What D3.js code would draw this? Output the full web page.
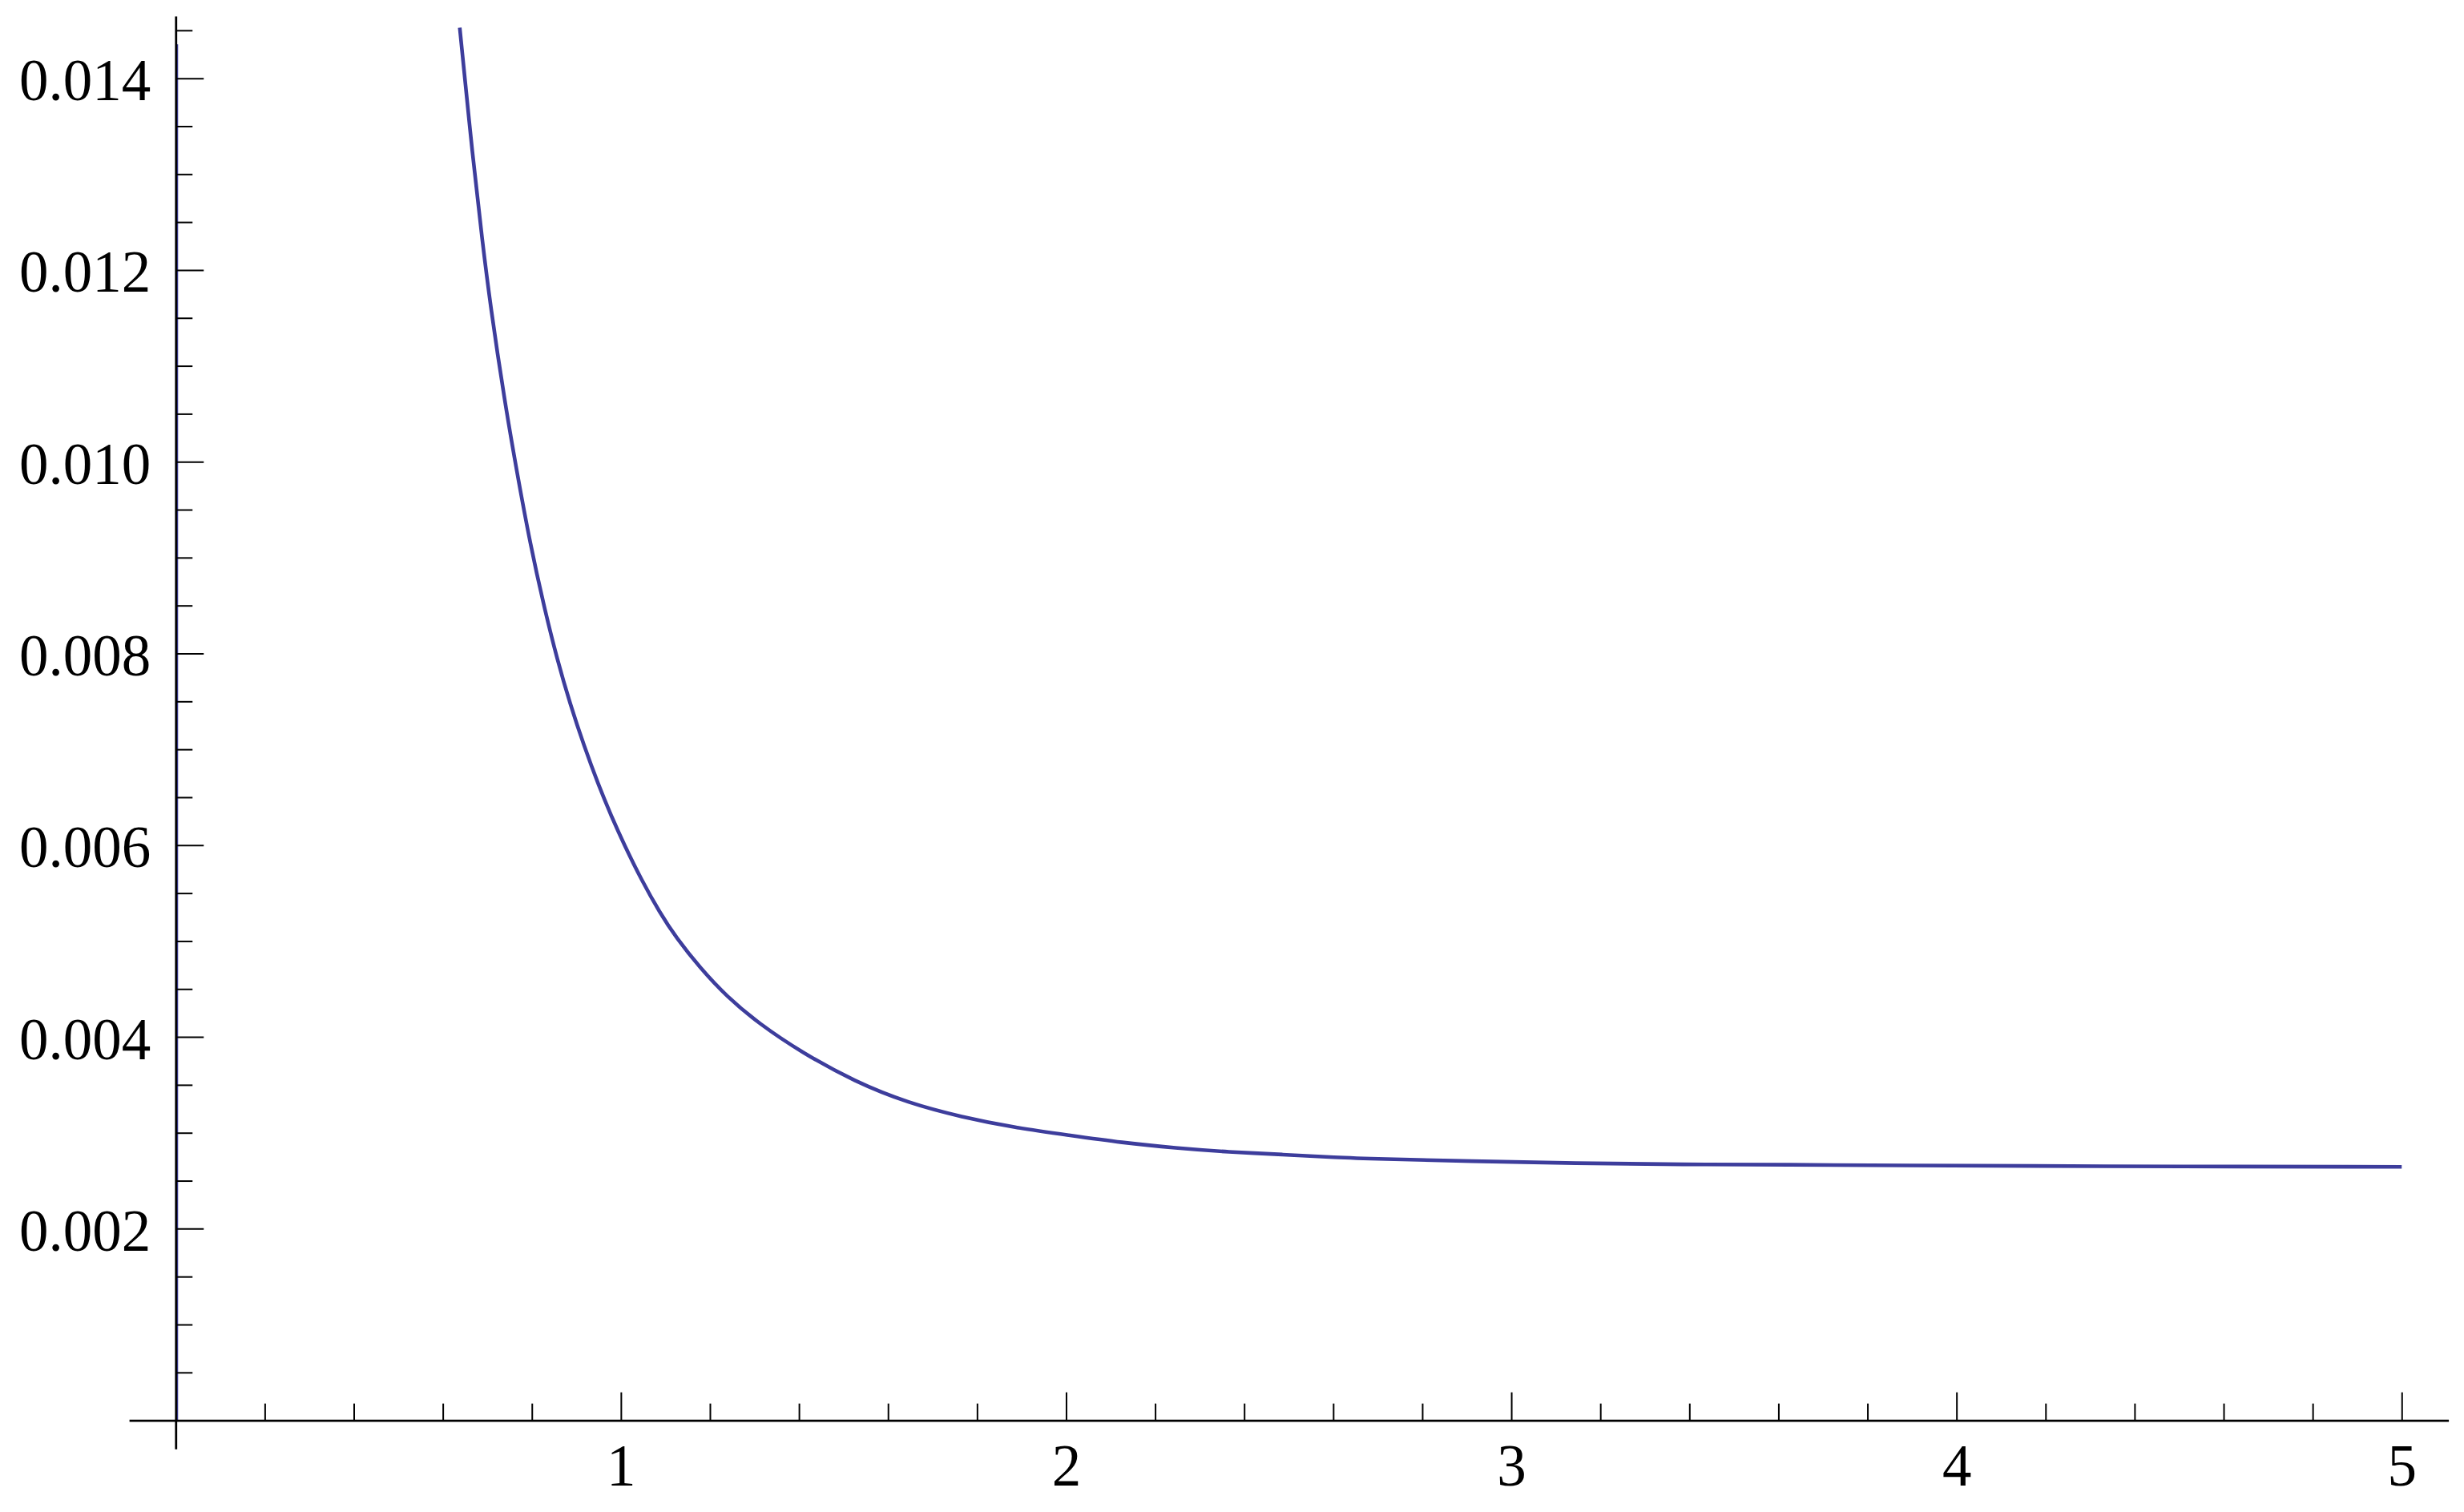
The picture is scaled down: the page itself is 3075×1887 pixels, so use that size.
<!DOCTYPE html>
<html>
<head>
<meta charset="utf-8">
<script src="https://cdnjs.cloudflare.com/ajax/libs/d3/7.8.5/d3.min.js"></script>
<style>
  body { margin: 0; background: #fff; }
  #graf { width: 3075px; height: 1887px; }
  .eje text { font-family: 'Liberation Serif', 'Times New Roman', serif; font-size: 73px; fill: #000; }
  .eje line { stroke: #000; stroke-width: 2px; }
  .eje path { stroke: #000; stroke-width: 2.8px; }
</style>
</head>
<body>
<div id="graf"></div>
<script>
// I. Data
curveX = [0.638, 0.6675, 0.6888, 0.7068, 0.7385, 0.7667, 0.7968, 0.8267, 0.8567, 0.8867,
          0.9167, 0.9498, 0.9797, 1.0067, 1.0457, 1.0877, 1.1237, 1.1777, 1.2377, 1.3097,
          1.4057, 1.5257, 1.6457, 1.7657, 1.8857, 2.0057, 2.1256, 2.2457, 2.3656, 2.4856,
          2.6056, 2.701, 2.9056, 3.1456, 3.3855, 3.625, 3.866, 4.286, 5.0]
curveY = [0.014528, 0.01316, 0.0123, 0.01163, 0.01064, 0.009884, 0.009131, 0.0085, 0.00794, 0.007461,
          0.007042, 0.006624, 0.00629, 0.006012, 0.005642, 0.005293, 0.005037, 0.00472, 0.00442, 0.00414,
          0.003839, 0.003532, 0.00331, 0.003164, 0.003053, 0.002975, 0.002897, 0.002841, 0.002799, 0.002774,
          0.002741, 0.002727, 0.002704, 0.002682, 0.002669, 0.002667, 0.00266, 0.00265, 0.002645]

// vertical piece of the same curve that sits on the y axis
edgeX = [0, 0]
edgeY = [0, 0.014355]

xTicks = [1, 2, 3, 4, 5]
xLabels = ['1', '2', '3', '4', '5']
yTicks = [0.002, 0.004, 0.006, 0.008, 0.010, 0.012, 0.014]
yLabels = ['0.002', '0.004', '0.006', '0.008', '0.010', '0.012', '0.014']

xDomain = [-0.1047, 5.105]
yDomain = [-0.000298, 0.014649]

// II. Setup
ancho_total = 3075
alto_total = 1887

svg = d3.select('#graf').append('svg')
        .attr('width', ancho_total)
        .attr('height', alto_total)

x = d3.scaleLinear()
      .domain(xDomain)
      .range([161.1, 3055.6])

y = d3.scaleLinear()
      .domain(yDomain)
      .range([1808.3, 20])

lineColor = '#3d3d9c'

// III. Curve
linea = d3.line()
          .x(d => x(d[0]))
          .y(d => y(d[1]))
          .curve(d3.curveBasis)

svg.append('path')
   .datum(edgeX.map((v, i) => [v, edgeY[i]]))
   .attr('transform', 'translate(1.5, 0)')
   .attr('d', d3.line().x(d => x(d[0])).y(d => y(d[1])))
   .attr('fill', 'none')
   .attr('stroke', lineColor)
   .attr('stroke-width', 3)

svg.append('path')
   .datum(curveX.map((v, i) => [v, curveY[i]]))
   .attr('d', linea)
   .attr('fill', 'none')
   .attr('stroke', lineColor)
   .attr('stroke-width', 4.6)
   .attr('stroke-linejoin', 'round')

// IV. Axes
xMinor = x.ticks(26).filter(d => d > 0.01 && Math.abs(d - Math.round(d)) > 1e-9)
yMinor = y.ticks(30).filter(d => d > 1e-7 && Math.abs(d / 0.002 - Math.round(d / 0.002)) > 1e-6)

xMinorGroup = svg.append('g')
   .attr('class', 'eje')
   .attr('transform', `translate(0, ${ y(0) })`)
   .call(d3.axisBottom(x).tickValues(xMinor).tickSize(-21).tickFormat(''))
xMinorGroup.select('.domain').remove()

xAxisGroup = svg.append('g')
   .attr('class', 'eje')
   .attr('transform', `translate(0, ${ y(0) })`)
   .call(d3.axisBottom(x)
           .tickValues(xTicks)
           .tickSizeInner(-35)
           .tickSizeOuter(0)
           .tickPadding(30)
           .tickFormat((d, i) => xLabels[i]))

yMinorGroup = svg.append('g')
   .attr('class', 'eje')
   .attr('transform', `translate(${ x(0) }, 0)`)
   .call(d3.axisLeft(y).tickValues(yMinor).tickSize(-21).tickFormat(''))
yMinorGroup.select('.domain').remove()

yAxisGroup = svg.append('g')
   .attr('class', 'eje')
   .attr('transform', `translate(${ x(0) }, 0)`)
   .call(d3.axisLeft(y)
           .tickValues(yTicks)
           .tickSizeInner(-35)
           .tickSizeOuter(0)
           .tickPadding(31)
           .tickFormat((d, i) => yLabels[i]))

yAxisGroup.selectAll('text').attr('dy', '0.37em')
svg.selectAll('.eje').attr('font-family', null).attr('font-size', null)
</script>
</body>
</html>
